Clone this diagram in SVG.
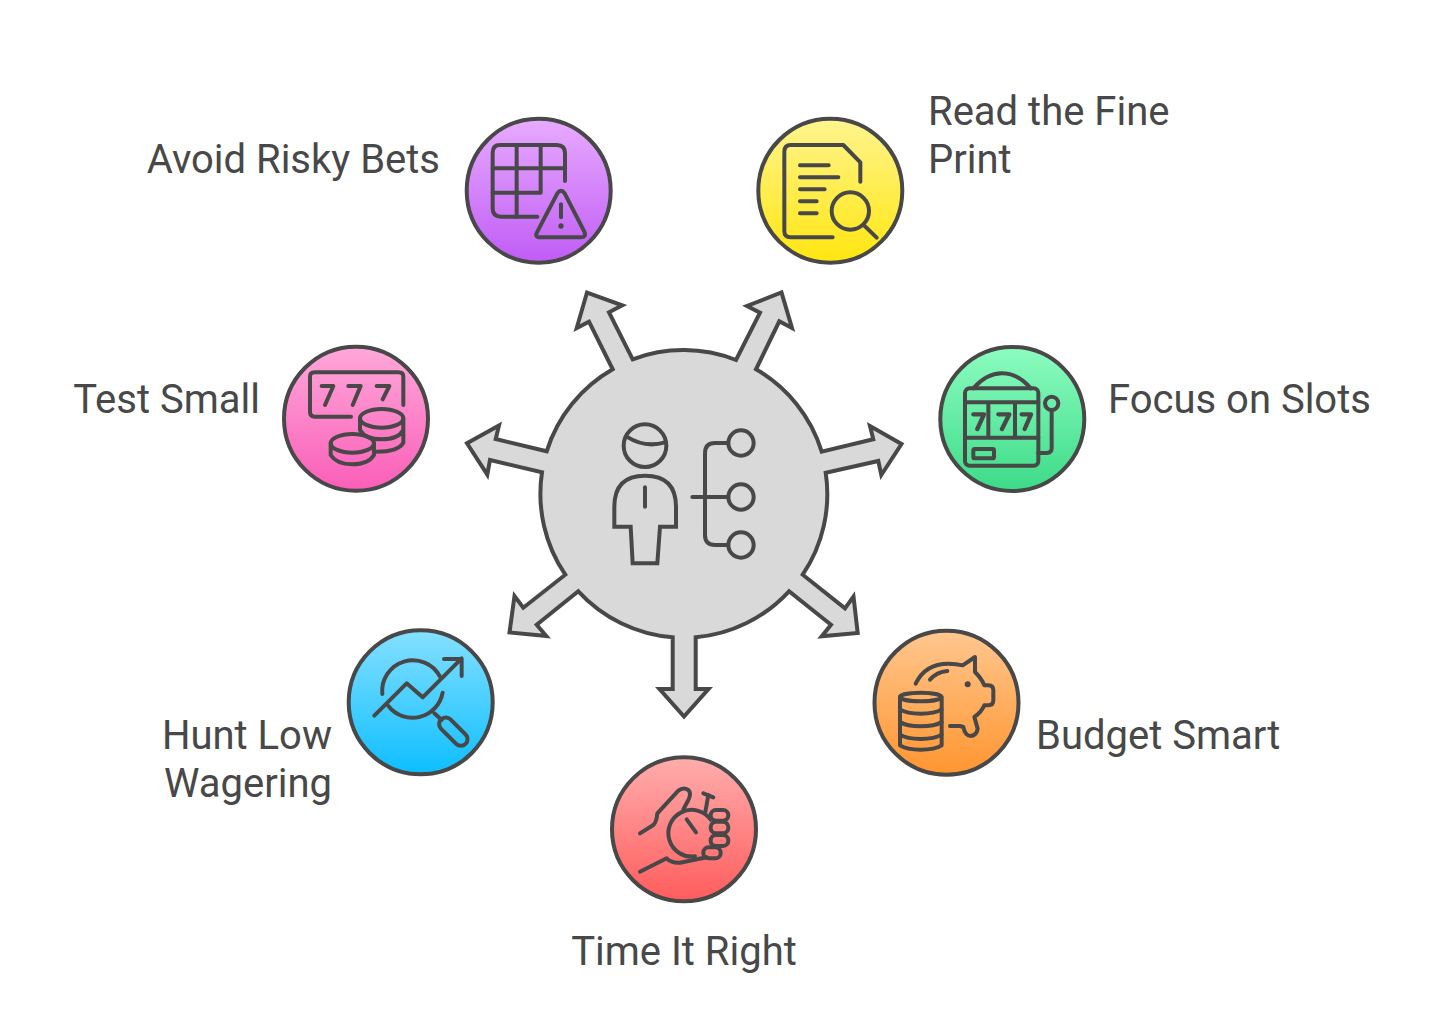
<svg xmlns="http://www.w3.org/2000/svg" width="1440" height="1034" viewBox="0 0 1440 1034">
<style>
.l{font-family:Roboto,"Liberation Sans",sans-serif;font-size:40px;fill:#484848}
.c{stroke:#484848;stroke-width:4}
.i{fill:none;stroke:#484848;stroke-width:12;stroke-linecap:round;stroke-linejoin:round}
.d{fill:#484848}
</style>
<defs>
<linearGradient id="gp" x1="0" y1="0" x2="0" y2="1"><stop offset="0" stop-color="#E8ABFF"/><stop offset="1" stop-color="#C05CF5"/></linearGradient>
<linearGradient id="gy" x1="0" y1="0" x2="0" y2="1"><stop offset="0" stop-color="#FFF48F"/><stop offset="1" stop-color="#FFE60F"/></linearGradient>
<linearGradient id="gk" x1="0" y1="0" x2="0" y2="1"><stop offset="0" stop-color="#FFA8DA"/><stop offset="1" stop-color="#FA5EB8"/></linearGradient>
<linearGradient id="gg" x1="0" y1="0" x2="0" y2="1"><stop offset="0" stop-color="#8CFCC0"/><stop offset="1" stop-color="#3DDB88"/></linearGradient>
<linearGradient id="gb" x1="0" y1="0" x2="0" y2="1"><stop offset="0" stop-color="#85E0FF"/><stop offset="1" stop-color="#0DBEFF"/></linearGradient>
<linearGradient id="gr" x1="0" y1="0" x2="0" y2="1"><stop offset="0" stop-color="#FFADAD"/><stop offset="1" stop-color="#FF5C5C"/></linearGradient>
<linearGradient id="go" x1="0" y1="0" x2="0" y2="1"><stop offset="0" stop-color="#FFC78F"/><stop offset="1" stop-color="#FF9530"/></linearGradient>
</defs>
<rect width="1440" height="1034" fill="#fff"/>
<g id="connectors">
<path class="c" fill="#D9D9D9" stroke-linejoin="miter" d="M632.7 359.3 L609 312.3 L622.3 305.3 L587 292.5 L576.7 328 L589 321.7 L612.7 369.3 A144 144 0 0 0 546.7 451.3 L495.7 439 L499 425.5 L467 443.3 L487.3 474.7 L490 460 L542 472.3 A144 144 0 0 0 565.3 574.7 L523.3 607.7 L514.5 596 L509.5 632.5 L546.3 636 L536.7 624.7 L578.3 591.3 A144 144 0 0 0 672.7 637.3 L672.7 689 L659.5 689 L684 716.5 L708.5 689 L695.7 689 L695.7 637.3 A144 144 0 0 0 789 591.3 L831 624.7 L821.7 636.3 L857.7 633 L853.5 596.5 L845 608.3 L802.7 574.7 A144 144 0 0 0 825.7 472.7 L878.3 461 L881.3 475 L901.5 444 L870 426 L873.3 439.3 L821.7 451.7 A144 144 0 0 0 756 369.3 L779.3 321.3 L792 328 L781.5 292.5 L747 306 L760 312.7 L736 360 A144 144 0 0 0 632.7 359.3 Z"/>
</g>
<g id="hub">
<g class="i" transform="translate(460 280) scale(.33333)">
<circle cx="555" cy="497" r="64"/>
<path d="M500 470Q555 505 615 487"/>
<path stroke-linejoin="miter" d="M463 740V680Q463 587 555 587Q648 587 648 680V740H600L592 850H518L512 740Z"/>
<path d="M555 622V680"/>
<circle cx="843" cy="489" r="38"/><circle cx="843" cy="651" r="38"/><circle cx="843" cy="795" r="38"/>
<path d="M805 489H765Q735 489 735 520V765Q735 795 765 795H805M697 651H805"/>
</g>
</g>
<g id="avoid">
<circle class="c" cx="538.7" cy="190.7" r="72" fill="url(#gp)"/>
<g class="i" transform="translate(450 100) scale(.33333)">
<path d="M345 243V160Q345 135 320 135H150Q128 135 128 158V325Q128 350 153 350H262"/>
<path d="M200 135V350M272 135V278M128 205H345M128 278H272"/>
<path d="M322 280Q333 265 344 280L403 395Q410 412 392 412H272Q252 412 262 395Z"/>
<path d="M333 313V352"/>
<circle class="d" cx="333" cy="378" r="8" stroke="none"/>
</g>
<text class="l" x="440" y="172.5" text-anchor="end">Avoid Risky Bets</text>
</g>
<g id="read">
<circle class="c" cx="830.3" cy="190.7" r="72" fill="url(#gy)"/>
<g class="i" transform="translate(450 100) scale(.33333)">
<path d="M1148 412H1022Q1003 412 1003 393V155Q1003 135 1022 135H1180L1231 187V245"/>
<path d="M1050 196H1136M1050 232H1165M1050 268H1124M1050 304H1100M1050 340H1100"/>
<circle cx="1201" cy="333" r="56"/>
<path d="M1243 377L1280 413"/>
</g>
<text class="l" x="928" y="124.5">Read the Fine</text>
<text class="l" x="928" y="172.5">Print</text>
</g>
<g id="test">
<circle class="c" cx="356" cy="418.7" r="72" fill="url(#gk)"/>
<g class="i" transform="translate(270 330) scale(.33333)">
<path d="M243 260H135Q120 260 120 245V140Q120 127 135 127H385Q400 127 400 140V225"/>
<path d="M155 168H190L165 225M235 168H272L248 225M320 168H358L338 208"/>
<ellipse cx="335" cy="265" rx="65" ry="28"/>
<path d="M270 265V300Q285 328 335 328Q385 328 400 300V265M400 300V338Q385 365 320 365"/>
<ellipse cx="247" cy="340" rx="65" ry="28"/>
<path d="M182 340V375Q200 403 247 403Q295 403 312 375V340"/>
</g>
<text class="l" x="260" y="412.5" text-anchor="end">Test Small</text>
</g>
<g id="focus">
<circle class="c" cx="1012.3" cy="419" r="72" fill="url(#gg)"/>
<g class="i" transform="translate(930 335) scale(.33333)">
<rect x="105" y="160" width="220" height="232" rx="14"/>
<path d="M130 160Q170 115 215 115Q265 115 302 160"/>
<path d="M105 202H325M105 308H325M175 202V308M255 202V308"/>
<path d="M130 238H162L142 282M205 238H238L216 282M275 238H303L284 282" stroke-width="13"/>
<rect x="130" y="342" width="62" height="28" rx="4"/>
<circle cx="365" cy="205" r="20"/>
<path d="M365 225V340Q365 354 350 354H325"/>
</g>
<text class="l" x="1108" y="412.5">Focus on Slots</text>
</g>
<g id="hunt">
<circle class="c" cx="420.7" cy="702.3" r="72" fill="url(#gb)"/>
<g class="i" transform="translate(340 620) scale(.33333)">
<path d="M103 287L200 190L248 232L365 115M312 117H365V168"/>
<path d="M127 222A92 92 0 0 1 300 170M308 218A92 92 0 0 1 145 258"/>
<path d="M283 280L305 300"/>
<rect x="288" y="315" width="104" height="40" rx="20" transform="rotate(45 340 335)"/>
</g>
<text class="l" x="332" y="748.5" text-anchor="end">Hunt Low</text>
<text class="l" x="332" y="796.5" text-anchor="end">Wagering</text>
</g>
<g id="time">
<circle class="c" cx="684" cy="829.3" r="72" fill="url(#gr)"/>
<g class="i" transform="translate(600 750) scale(.33333)">
<path d="M120 250L160 225Q170 215 172 190L235 122Q250 110 265 120Q275 130 265 150L250 178"/>
<path d="M332 209A70 70 0 1 0 285 319"/>
<path d="M316 186L325 135M310 130L340 142"/>
<rect x="332" y="180" width="53" height="32" rx="16"/>
<rect x="332" y="215" width="53" height="35" rx="17"/>
<rect x="332" y="255" width="53" height="33" rx="16"/>
<rect x="310" y="292" width="52" height="33" rx="16"/>
<path d="M120 365L200 325Q215 340 240 338L320 322"/>
<path d="M260 208L288 247"/>
</g>
<text class="l" x="684" y="964.5" text-anchor="middle">Time It Right</text>
</g>
<g id="budget">
<circle class="c" cx="946.5" cy="702.7" r="72" fill="url(#go)"/>
<g class="i" transform="translate(865 622) scale(.33333)">
<ellipse cx="167" cy="225" rx="62" ry="13"/>
<path d="M105 225V370Q125 383 167 383Q210 383 230 370V225"/>
<path d="M105 262Q125 275 167 275Q210 275 230 262M105 300Q125 313 167 313Q210 313 230 300M105 338Q125 351 167 351Q210 351 230 338"/>
<path d="M152 185Q180 125 250 125Q275 125 293 130L330 105V150Q350 170 358 190H370Q385 190 385 205V235Q385 250 370 250H358Q350 270 328 285L338 320Q335 340 318 342Q300 342 295 315L285 312H255"/>
<path d="M195 173Q215 150 247 147"/>
<circle class="d" cx="308" cy="187" r="9" stroke="none"/>
</g>
<text class="l" x="1036" y="748.5">Budget Smart</text>
</g>
</svg>
